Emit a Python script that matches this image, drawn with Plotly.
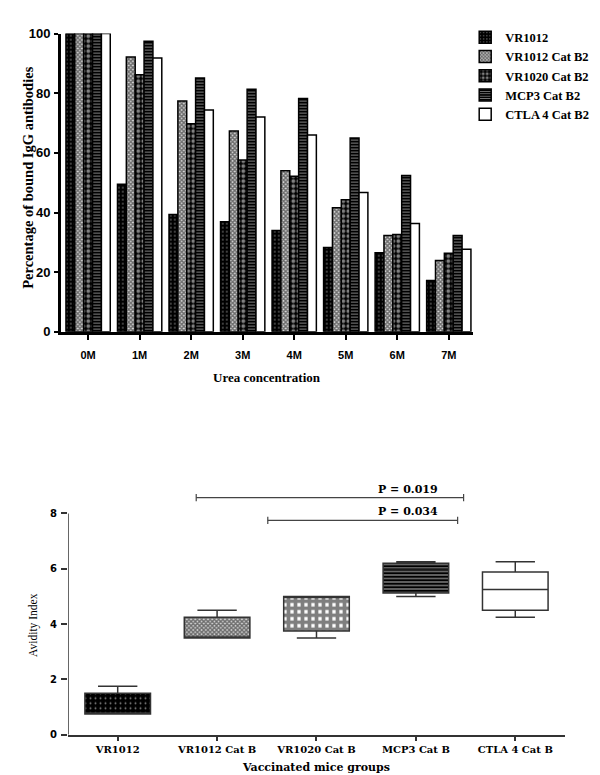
import plotly.graph_objects as go

# ---------------- data: top panel (grouped bars) ----------------
concentrations = ["0M", "1M", "2M", "3M", "4M", "5M", "6M", "7M"]
bar_series = ["VR1012", "VR1012 Cat B2", "VR1020 Cat B2", "MCP3 Cat B2", "CTLA 4 Cat B2"]
vr1012 = [100, 49.5, 39.3, 36.9, 34.0, 28.3, 26.5, 17.2]
vr1012_catb2 = [100, 92.2, 77.4, 67.3, 54.0, 41.6, 32.3, 23.9]
vr1020_catb2 = [100, 86.2, 69.8, 57.6, 52.2, 44.3, 32.6, 26.3]
mcp3_catb2 = [100, 97.4, 85.1, 81.3, 78.2, 65.0, 52.4, 32.3]
ctla4_catb2 = [100, 91.8, 74.4, 72.0, 66.0, 46.7, 36.3, 27.7]
top_yticks = [0, 20, 40, 60, 80, 100]

# ---------------- data: bottom panel (box plot) ----------------
groups = ["VR1012", "VR1012 Cat B", "VR1020 Cat B", "MCP3 Cat B", "CTLA 4 Cat B"]
group_pos = [0, 1, 2, 3, 4]
box_min = [0.75, 3.5, 3.5, 5.0, 4.25]
box_q1 = [0.75, 3.5, 3.75, 5.12, 4.5]
box_median = [0.75, 3.5, 5.0, 6.0, 5.25]
box_q3 = [1.5, 4.25, 5.0, 6.2, 5.88]
box_max = [1.75, 4.5, 5.0, 6.25, 6.25]
bottom_yticks = [0, 2, 4, 6, 8]

bracket_from = [0.79, 1.51]
bracket_to = [3.48, 3.42]
bracket_level = [8.57, 7.75]
p_labels = ["P = 0.019", "P = 0.034"]
p_label_x = [2.92, 2.92]

# ---------------- styles ----------------
bar_values = [vr1012, vr1012_catb2, vr1020_catb2, mcp3_catb2, ctla4_catb2]
bar_patterns = [
    dict(shape=".", fgcolor="white", bgcolor="black", size=4, solidity=0.15),
    dict(shape="x", fgcolor="black", bgcolor="#d8d8d8", size=3, solidity=0.7),
    dict(shape=".", fgcolor="white", bgcolor="black", size=5, solidity=0.45),
    dict(shape="-", fgcolor="white", bgcolor="black", size=3, solidity=0.35),
    dict(shape="", fgcolor="black", bgcolor="white"),
]
box_patterns = [
    dict(shape=".", fgcolor="white", bgcolor="black", size=5, solidity=0.12),
    dict(shape="x", fgcolor="black", bgcolor="#d8d8d8", size=3, solidity=0.7),
    dict(shape="+", fgcolor="black", bgcolor="white", size=7, solidity=0.78),
    dict(shape="-", fgcolor="white", bgcolor="black", size=3.5, solidity=0.4),
    dict(shape="", fgcolor="black", bgcolor="white"),
]

SERIF = "Liberation Serif, Times New Roman, serif"
WSERIF = "DejaVu Serif, serif"
NARROW = "Liberation Sans Narrow, Arial Narrow, Liberation Sans, sans-serif"

fig = go.Figure()

for name, vals, pat in zip(bar_series, bar_values, bar_patterns):
    fig.add_trace(go.Bar(
        x=concentrations, y=vals, name=name,
        marker=dict(color="white", line=dict(color="black", width=1.5), pattern=pat),
        xaxis="x", yaxis="y", showlegend=True,
    ))

# box fills (patterned) drawn as bars from q1 to q3
box_w = 0.66
for i in range(len(groups)):
    fig.add_trace(go.Bar(
        x=[group_pos[i]], y=[box_q3[i] - box_q1[i]], base=[box_q1[i]], width=box_w,
        marker=dict(color="white", line=dict(width=0), pattern=box_patterns[i]),
        xaxis="x2", yaxis="y2", showlegend=False, hoverinfo="skip",
    ))
    fig.add_trace(go.Box(
        x=[group_pos[i]], q1=[box_q1[i]], median=[box_median[i]], q3=[box_q3[i]],
        lowerfence=[box_min[i]], upperfence=[box_max[i]], width=box_w,
        whiskerwidth=0.6, fillcolor="rgba(0,0,0,0)",
        line=dict(color="#333", width=1.5), boxpoints=False,
        xaxis="x2", yaxis="y2", showlegend=False, name=groups[i],
    ))

# significance brackets
cap = 0.13
for x0, x1, lv, lab, lx in zip(bracket_from, bracket_to, bracket_level, p_labels, p_label_x):
    fig.add_trace(go.Scatter(
        x=[x0, x0, None, x0, x1, None, x1, x1],
        y=[lv - cap, lv + cap, None, lv, lv, None, lv - cap, lv + cap],
        mode="lines", line=dict(color="#444", width=1.2),
        xaxis="x2", yaxis="y2", showlegend=False, hoverinfo="skip",
    ))
    fig.add_annotation(x=lx, y=lv, xref="x2", yref="y2", text=lab, showarrow=False,
                       xanchor="center", yanchor="bottom", yshift=0,
                       font=dict(family=WSERIF, size=11, color="black", weight="bold"))

# y-axis line of bottom panel (only up to 8)
fig.add_shape(type="line", xref="x2", yref="y2", x0=-0.5, x1=-0.5, y0=0, y1=8,
              line=dict(color="#333", width=1.5))

fig.update_layout(
    width=600, height=775, margin=dict(l=0, r=0, t=0, b=0),
    paper_bgcolor="white", plot_bgcolor="white",
    barmode="group", bargap=0.14, bargroupgap=0.0,
    xaxis=dict(domain=[0.088, 0.775], anchor="y", range=[-0.53, 7.47],
               showline=True, linecolor="black", linewidth=2.5,
               ticks="outside", ticklen=5, tickwidth=2, tickcolor="black",
               ticklabelstandoff=6, showgrid=False, zeroline=False,
               tickfont=dict(family=NARROW, size=11, color="black", weight="bold")),
    yaxis=dict(domain=[0.5832, 0.9755], anchor="x", range=[0, 100],
               tickvals=top_yticks, showline=True, linecolor="black", linewidth=2.5,
               ticks="outside", ticklen=4, tickwidth=2, tickcolor="black",
               showgrid=False, zeroline=False, ticklabelstandoff=1,
               tickfont=dict(family=NARROW, size=13, color="black", weight="bold")),
    xaxis2=dict(domain=[0.1, 0.9283], anchor="y2", range=[-0.5, 4.5],
                tickvals=group_pos, ticktext=groups,
                showline=True, linecolor="#333", linewidth=1.5,
                ticks="outside", ticklen=4, tickwidth=1.5, tickcolor="#333",
                showgrid=False, zeroline=False, ticklabelstandoff=0,
                tickfont=dict(family=WSERIF, size=10, color="black", weight="bold")),
    yaxis2=dict(domain=[0.0529, 0.3806], anchor="x2", range=[0, 9],
                tickvals=bottom_yticks, showline=False,
                ticks="outside", ticklen=6, tickwidth=1.5, tickcolor="#333",
                showgrid=False, zeroline=False, ticklabelstandoff=2,
                tickfont=dict(family="DejaVu Sans, sans-serif", size=10, color="black", weight="bold")),
    legend=dict(x=0.762, y=0.99, xanchor="left", yanchor="top",
                font=dict(family=SERIF, size=12.5, color="black", weight="bold"),
                bgcolor="rgba(0,0,0,0)", itemwidth=30, tracegroupgap=0),
)

# axis titles
fig.add_annotation(text="Percentage of bound IgG antibodies", xref="paper", yref="paper",
                   x=20 / 600, y=1 - 166 / 775, textangle=-90, showarrow=False,
                   xanchor="center", yanchor="middle",
                   font=dict(family=SERIF, size=14.5, color="black", weight="bold"))
fig.add_annotation(text="Urea concentration", xref="paper", yref="paper",
                   x=259 / 600, y=1 - 370 / 775, showarrow=False,
                   xanchor="center", yanchor="middle",
                   font=dict(family=SERIF, size=13, color="black", weight="bold"))
fig.add_annotation(text="Avidity Index", xref="paper", yref="paper",
                   x=26 / 600, y=1 - 622 / 775, textangle=-90, showarrow=False,
                   xanchor="center", yanchor="middle",
                   font=dict(family=SERIF, size=11.5, color="black"))
fig.add_annotation(text="Vaccinated mice groups", xref="paper", yref="paper",
                   x=308 / 600, y=1 - 767 / 775, showarrow=False,
                   xanchor="center", yanchor="middle",
                   font=dict(family=WSERIF, size=11, color="black", weight="bold"))

fig.write_html("out.html")
